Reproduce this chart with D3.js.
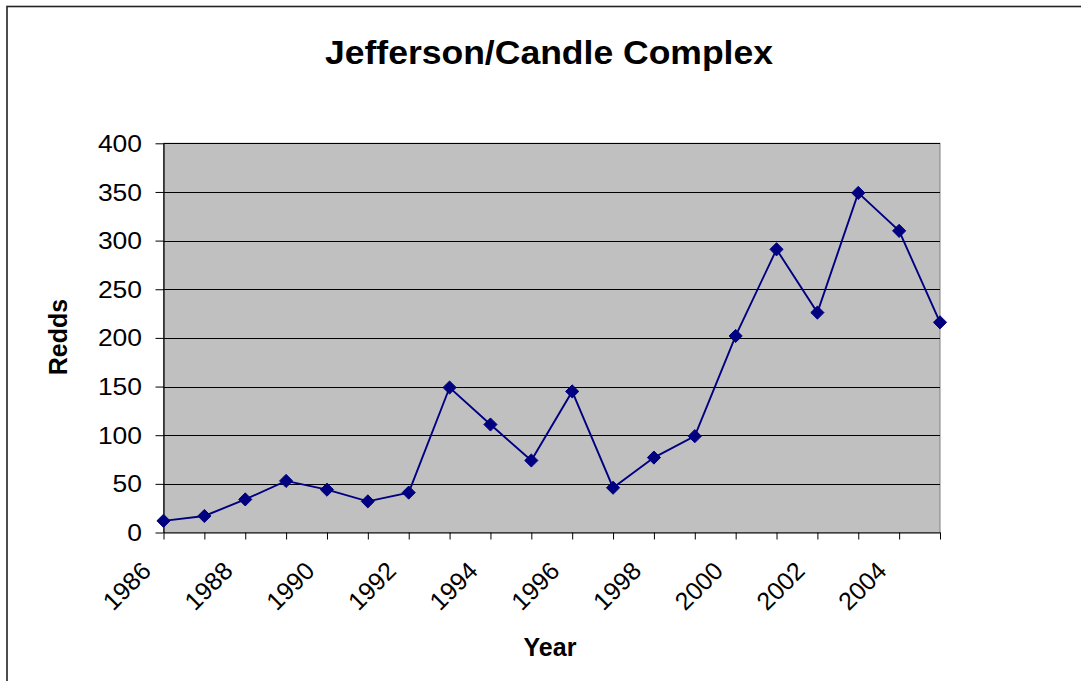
<!DOCTYPE html>
<html>
<head>
<meta charset="utf-8">
<script src="https://cdn.jsdelivr.net/npm/d3@7"></script>
<style>
  html, body { margin: 0; padding: 0; background: #fff; }
  svg { display: block; }
  text { font-family: "Liberation Sans", Arial, sans-serif; fill: #000; }
</style>
</head>
<body>
<svg id="chart" width="1081" height="681"></svg>
<script>
// Redd counts, Jefferson/Candle Complex
const years = [1986, 1987, 1988, 1989, 1990, 1991, 1992, 1993, 1994, 1995,
               1996, 1997, 1998, 1999, 2000, 2001, 2002, 2003, 2004, 2005];
const redds = [12, 17, 34, 53, 44, 32, 41, 149, 111, 74,
               145, 46, 77, 99, 202, 291, 226, 349, 310, 216];
const yTicks = [0, 50, 100, 150, 200, 250, 300, 350, 400];
const xTickLabels = [1986, 1988, 1990, 1992, 1994, 1996, 1998, 2000, 2002, 2004];

const svg = d3.select("#chart");

// outer chart frame
svg.append("rect")
  .attr("x", 7).attr("y", 6.5)
  .attr("width", 1090).attr("height", 690)
  .attr("fill", "#fff")
  .attr("stroke", "#222").attr("stroke-width", 1.6);

const plot = { left: 163.5, right: 940, top: 143.3, bottom: 532.5 };

const x = d3.scalePoint().domain(years).range([plot.left, plot.right]);
const y = d3.scaleLinear().domain([0, 400]).range([plot.bottom, plot.top]);

// plot area background
svg.append("rect")
  .attr("x", plot.left).attr("y", plot.top)
  .attr("width", plot.right - plot.left).attr("height", plot.bottom - plot.top)
  .attr("fill", "#c0c0c0")
  .attr("stroke", "#808080").attr("stroke-width", 1);

// horizontal gridlines
svg.append("g")
  .selectAll("line")
  .data(yTicks.filter(d => d > 0))
  .join("line")
  .attr("x1", plot.left).attr("x2", plot.right)
  .attr("y1", d => Math.round(y(d)) + 0.5).attr("y2", d => Math.round(y(d)) + 0.5)
  .attr("stroke", "#000").attr("stroke-width", 1);

// y axis
const yAxis = svg.append("g")
  .attr("transform", `translate(${plot.left},0)`)
  .call(d3.axisLeft(y).tickValues(yTicks).tickSize(8).tickPadding(13.5).tickSizeOuter(0));
yAxis.select(".domain").attr("stroke", "#000").attr("stroke-width", 1.2);
yAxis.selectAll(".tick line").attr("stroke", "#000");
yAxis.selectAll(".tick text")
  .attr("font-size", 23)
  .attr("font-family", "Liberation Sans, Arial, sans-serif")
  .attr("fill", "#000")
  .attr("dy", "0.35em")
  .attr("textLength", d => String(d).length * 14.7)
  .attr("lengthAdjust", "spacingAndGlyphs");

// x axis
const xAxis = svg.append("g")
  .attr("transform", `translate(0,${plot.bottom})`)
  .call(d3.axisBottom(x).tickSize(7).tickSizeOuter(0).tickFormat(""));
xAxis.select(".domain").attr("stroke", "#000").attr("stroke-width", 1.2);
xAxis.selectAll(".tick line").attr("stroke", "#000");

// rotated year labels, every second year
svg.append("g")
  .selectAll("text")
  .data(xTickLabels)
  .join("text")
  .attr("transform", d => `translate(${x(d) - 11},${plot.bottom + 40}) rotate(-45)`)
  .attr("text-anchor", "end")
  .attr("font-size", 25)
  .text(d => d);

// series line
const line = d3.line()
  .x((d, i) => x(years[i]))
  .y(d => y(d));

svg.append("path")
  .datum(redds)
  .attr("d", line)
  .attr("fill", "none")
  .attr("stroke", "#000080")
  .attr("stroke-width", 1.9);

// diamond markers
const diamond = d3.symbol().type(d3.symbolDiamond2).size(110);
svg.append("g")
  .selectAll("path")
  .data(redds)
  .join("path")
  .attr("transform", (d, i) => `translate(${x(years[i])},${y(d)})`)
  .attr("d", diamond)
  .attr("fill", "#000080")
  .attr("stroke", "#000080")
  .attr("stroke-width", 1);

// title
svg.append("text")
  .attr("x", 549).attr("y", 64)
  .attr("text-anchor", "middle")
  .attr("font-size", 34)
  .attr("font-weight", "bold")
  .attr("textLength", 448)
  .attr("lengthAdjust", "spacingAndGlyphs")
  .text("Jefferson/Candle Complex");

// axis titles
svg.append("text")
  .attr("x", 550).attr("y", 656)
  .attr("text-anchor", "middle")
  .attr("font-size", 25)
  .attr("font-weight", "bold")
  .text("Year");

svg.append("text")
  .attr("transform", "translate(67,337) rotate(-90)")
  .attr("text-anchor", "middle")
  .attr("font-size", 25)
  .attr("font-weight", "bold")
  .text("Redds");
</script>
</body>
</html>
